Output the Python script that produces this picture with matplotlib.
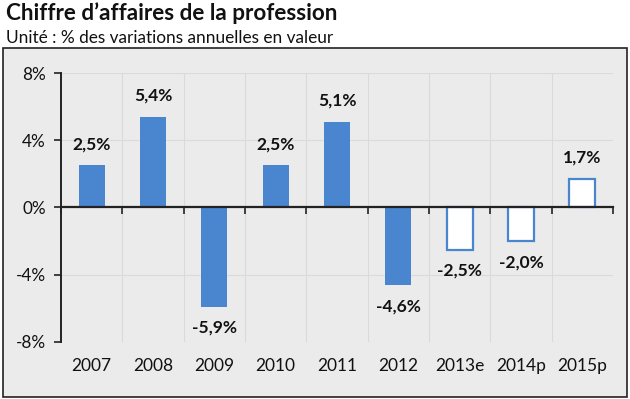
import matplotlib
matplotlib.use("Agg")
import matplotlib.pyplot as plt
from matplotlib.patches import Rectangle
import numpy as np

plt.rcParams['font.family'] = ['Lato', 'DejaVu Sans']

years = ['2007', '2008', '2009', '2010', '2011', '2012', '2013e', '2014p', '2015p']
values = [2.5, 5.4, -5.9, 2.5, 5.1, -4.6, -2.5, -2.0, 1.7]
forecast = [False, False, False, False, False, False, True, True, True]
labels = ['2,5%', '5,4%', '-5,9%', '2,5%', '5,1%', '-4,6%', '-2,5%', '-2,0%', '1,7%']
yticks = [-8, -4, 0, 4, 8]

blue = '#4A86CF'
bg = '#EBEBEB'

fig = plt.figure(figsize=(6.3, 3.99), dpi=100)
fig.patch.set_facecolor('white')

# grey box around the chart
fig.patches.append(Rectangle((3 / 630, 2 / 399), 624 / 630, 349 / 399,
                             transform=fig.transFigure, facecolor=bg,
                             edgecolor='#222222', linewidth=1.2, zorder=-5))

fig.text(6 / 630, 1 - 13 / 399, "Chiffre d\u2019affaires de la profession",
         fontsize=16.2, fontweight='bold', va='center', ha='left', color='#111111')
fig.text(6 / 630, 1 - 38 / 399, "Unit\u00e9 : % des variations annuelles en valeur",
         fontsize=12.4, va='center', ha='left', color='#111111')

ax = fig.add_axes([61 / 630, 1 - 342 / 399, 552 / 630, 269 / 399], zorder=2)
ax.set_facecolor(bg)

x = np.arange(len(years))
for xi, v, f in zip(x, values, forecast):
    if f:
        ax.bar(xi, v, width=0.42, facecolor='white', edgecolor=blue,
               linewidth=1.6, zorder=3)
    else:
        ax.bar(xi, v, width=0.42, color=blue, zorder=3)

for xi, v, lab in zip(x, values, labels):
    off = 9.5 if v > 0 else -9.5
    ax.annotate(lab, (xi, v), xytext=(0, off), textcoords='offset points',
                ha='center', va='bottom' if v > 0 else 'top',
                fontsize=12.5, fontweight='bold', color='#111111')

ax.set_xlim(-0.5, len(years) - 0.5)
ax.set_ylim(-8, 8)
ax.set_yticks(yticks)
ax.set_yticklabels([f'{t}%' for t in yticks])
ax.set_xticks(np.arange(-0.5, len(years), 1.0))
ax.set_xticklabels([])

ax.grid(True, color='#DADADA', linewidth=0.8, zorder=0)
ax.set_axisbelow(True)

for s in ['top', 'right']:
    ax.spines[s].set_visible(False)
ax.spines['bottom'].set_position(('data', 0))
ax.spines['bottom'].set_zorder(4)
ax.spines['bottom'].set_linewidth(1.6)
ax.spines['bottom'].set_color('#222222')
ax.spines['left'].set_linewidth(1.4)
ax.spines['left'].set_color('#222222')
ax.tick_params(axis='x', length=5, width=1.2, color='#222222', direction='out')
ax.tick_params(axis='y', length=5, width=1.2, color='#222222', labelsize=12.3,
               pad=6, labelcolor='#111111')

for xi, y in zip(x, years):
    ax.text(xi, -0.09, y, transform=ax.get_xaxis_transform(), ha='center',
            va='center', fontsize=12.5, color='#111111')

fig.savefig('out.png', dpi=100)
